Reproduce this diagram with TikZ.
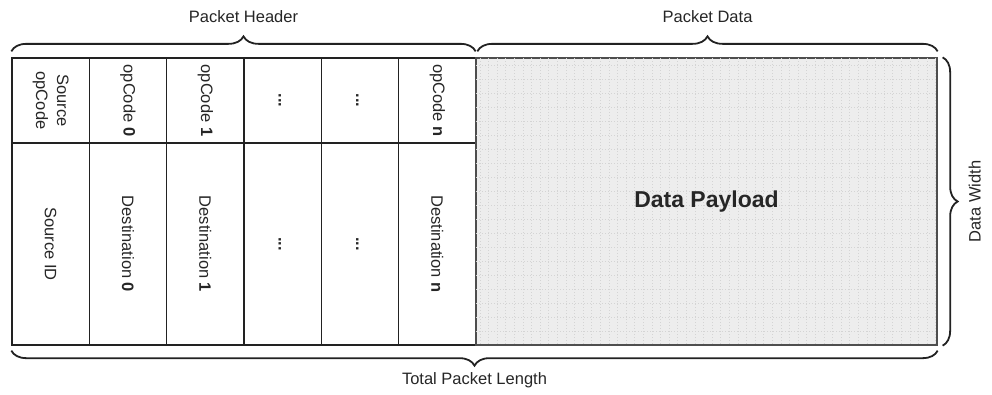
\documentclass[tikz,border=0pt]{standalone}
\usepackage{fontspec}
\setmainfont{Liberation Sans}
\usetikzlibrary{decorations.pathreplacing,calc}
\definecolor{ink}{HTML}{222222}
\definecolor{txt}{HTML}{262626}
\definecolor{payfill}{HTML}{EDEDED}
\definecolor{paygrid}{HTML}{D4D4D4}
\begin{document}
\begin{tikzpicture}[x=1pt,y=-1pt,
  cell/.style={draw=ink, line width=1.3pt, minimum width=77.33pt, inner sep=0pt},
  toprow/.style={cell, minimum height=85pt},
  botrow/.style={cell, minimum height=202pt},
  vtext/.style={rotate=-90, text=txt, align=center, inner sep=0pt,
    font=\fontsize{16.5}{21}\selectfont},
  vdots/.style={vtext, font=\fontsize{16.5}{21}\selectfont\bfseries},
  lbl/.style={text=txt, inner sep=0pt, font=\fontsize{16.5}{20}\selectfont},
  bracket/.style={draw=ink, line width=1.8pt,
    decorate, decoration={brace, amplitude=15pt}}]
\useasboundingbox (0,0) rectangle (992,394);

% header cells: opcode row and destination row
\foreach \i/\x in {0/50.67,1/128,2/205.33,3/282.67,4/360,5/437.33}{
  \node[toprow] (h\i) at (\x,100.5) {};
  \node[botrow] (d\i) at (\x,244) {};
}

% data payload with its faint dotted grid
\node[draw=ink!80, line width=1.3pt, fill=payfill, minimum width=461pt,
  minimum height=287pt, inner sep=0pt] (pay) at (706.5,201.5) {};
\begin{scope}
  \clip (pay.north west) rectangle (pay.south east);
  \foreach \gx in {480,488.6,...,937}
    \draw[paygrid, line width=0.7pt, dash pattern=on 1pt off 2pt] (\gx,58) -- (\gx,345);
  \foreach \gy in {65,79,...,345}
    \draw[paygrid, line width=0.7pt, dash pattern=on 1pt off 2pt] (476,\gy) -- (937,\gy);
\end{scope}
\draw[ink!80, line width=1.3pt] (pay.north west) rectangle (pay.south east);
\node[text=txt, font=\fontsize{23}{26}\selectfont\bfseries] (payt) at (pay) {Data Payload};

% cell texts
\node[vtext] (th0) at (h0) {Source\\opCode};
\node[vtext] (th1) at (h1) {opCode \textbf{0}};
\node[vtext] (th2) at (h2) {opCode \textbf{1}};
\node[vdots] (th3) at (h3) {\vphantom{Ap}...};
\node[vdots] (th4) at (h4) {\vphantom{Ap}...};
\node[vtext] (th5) at (h5) {opCode \textbf{n}};
\node[vtext] (td0) at (d0) {Source ID};
\node[vtext] (td1) at (d1) {Destination \textbf{0}};
\node[vtext] (td2) at (d2) {Destination \textbf{1}};
\node[vdots] (td3) at (d3) {\vphantom{Ap}...};
\node[vdots] (td4) at (d4) {\vphantom{Ap}...};
\node[vtext] (td5) at (d5) {Destination \textbf{n}};

% braces
\coordinate (phA) at ($(h0.north west)+(0,-6)$);
\coordinate (phB) at ($(h5.north east)+(-1,-6)$);
\coordinate (pdA) at ($(pay.north west)+(2,-6)$);
\coordinate (pdB) at ($(pay.north east)+(0,-6)$);
\coordinate (tlA) at ($(d0.south west)+(0,5)$);
\coordinate (tlB) at ($(pay.south east)+(0,5)$);
\coordinate (dwA) at ($(pay.north east)+(5,0)$);
\coordinate (dwB) at ($(pay.south east)+(5,0)$);
\draw[bracket] (phA) -- (phB);
\draw[bracket] (pdA) -- (pdB);
\draw[bracket] (tlB) -- (tlA);
\draw[bracket] (dwA) -- (dwB);

% brace labels
\node[lbl] (lph) at ($(phA)!0.5!(phB)+(0,-34.5)$) {Packet Header};
\node[lbl] (lpd) at ($(pdA)!0.5!(pdB)+(0,-34.5)$) {Packet Data};
\node[lbl] (ltl) at ($(tlA)!0.5!(tlB)+(0,30)$) {Total Packet Length};
\node[lbl, rotate=90] (ldw) at ($(dwA)!0.5!(dwB)+(32,0)$) {Data Width};
\end{tikzpicture}
\end{document}
